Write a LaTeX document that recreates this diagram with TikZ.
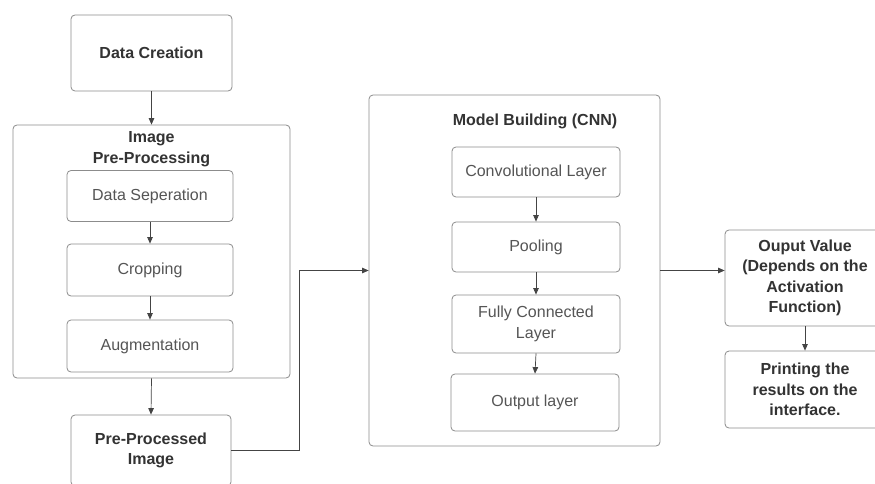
\documentclass[tikz,border=0pt]{standalone}
\usepackage{fontspec}
\setmainfont{Liberation Sans}
\usetikzlibrary{arrows.meta}
\definecolor{boxline}{HTML}{8C8C8C}
\definecolor{txtdark}{HTML}{333333}
\definecolor{txtlight}{HTML}{555555}
\definecolor{arrcol}{HTML}{444444}
\tikzset{
  box/.style={draw=boxline, line width=0.8pt, rounded corners=4pt, fill=white, inner sep=2pt, align=center},
  boldbox/.style={box, font=\fontsize{16}{20.5}\selectfont\bfseries, text=txtdark},
  thinbox/.style={box, font=\fontsize{16}{20.5}\selectfont, text=txtlight},
  title/.style={font=\fontsize{16}{20.5}\selectfont\bfseries, text=txtdark, align=center, inner sep=0pt},
  arr/.style={draw=arrcol, line width=0.7pt, -{Triangle[length=6.5pt,width=5.5pt]}}
}
\begin{document}
\begin{tikzpicture}[x=1pt,y=-1pt]
\clip (0,0) rectangle (875,484);
\fill[white] (0,0) rectangle (875,484);
% left column
\node[boldbox, minimum width=161pt, minimum height=76pt] (dc) at (151.5,53) {Data Creation};
\node[box, minimum width=277pt, minimum height=253pt] (ipp) at (151.5,251.5) {};
\node[title] (ipptitle) at (151.5,149) {Image\\Pre-Processing};
\node[thinbox, minimum width=166pt, minimum height=51pt] (ds) at (150,196) {Data Seperation};
\node[thinbox, minimum width=166pt, minimum height=52pt] (crop) at (150,270) {Cropping};
\node[thinbox, minimum width=166pt, minimum height=52pt] (aug) at (150,346) {Augmentation};
\node[boldbox, minimum width=160pt, minimum height=71pt] (ppi) at (151,450.5) {Pre-Processed\\Image};
% model building
\node[box, minimum width=291pt, minimum height=351pt] (mb) at (514.5,270.5) {};
\node[title] (mbtitle) at (535,121) {Model Building (CNN)};
\node[thinbox, minimum width=168pt, minimum height=50pt] (conv) at (536,172) {Convolutional Layer};
\node[thinbox, minimum width=168pt, minimum height=50pt] (pool) at (536,247) {Pooling};
\node[thinbox, minimum width=168pt, minimum height=58pt] (fc) at (536,324) {Fully Connected\\Layer};
\node[thinbox, minimum width=168pt, minimum height=57pt] (out) at (535,402.5) {Output layer};
% right column
\node[boldbox, minimum width=160pt, minimum height=96pt] (ov) at (805,278) {Ouput Value\\(Depends on the\\Activation\\Function)};
\node[boldbox, minimum width=160pt, minimum height=77pt] (pr) at (805,389.5) {Printing the\\results on the\\interface.};
\coordinate (c1) at (299,0);
% connectors
\draw[arr] (dc.south) -- (ipp.north);
\draw[arr] (ds.south) -- (crop.north);
\draw[arr] (crop.south) -- (aug.north);
\draw[arr] (ipp.south) -- (ppi.north);
\draw[arr] (ppi.east) -- (ppi.east -| c1) -- (c1 |- mb.west) -- (mb.west);
\draw[arr] (conv.south) -- (pool.north);
\draw[arr] (pool.south) -- (fc.north);
\draw[arr] (fc.south) -- (out.north);
\draw[arr] (mb.east) -- (ov.west |- mb.east);
\draw[arr] (ov.south) -- (pr.north);
\end{tikzpicture}
\end{document}
